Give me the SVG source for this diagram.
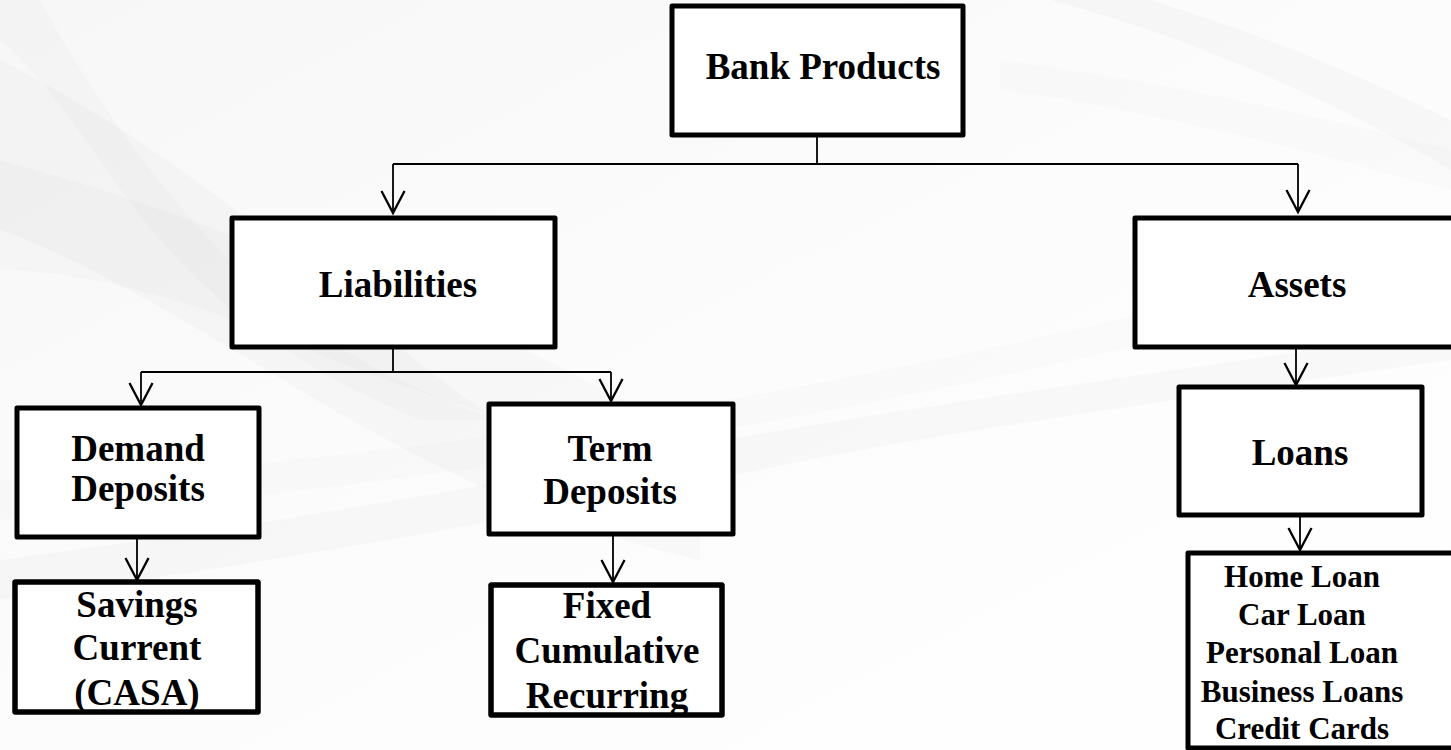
<svg xmlns="http://www.w3.org/2000/svg" width="1451" height="750" viewBox="0 0 1451 750">
<style>
.box{fill:#fff;stroke:#000;stroke-width:5;stroke-linejoin:round}
.lbl{font-family:"Liberation Serif","Times New Roman",serif;font-weight:bold;font-size:37px;fill:#000;text-anchor:middle}
.sm{font-size:31px}
.con{fill:none;stroke:#000;stroke-width:1.8}
.sw{fill:#000}
</style>
<defs>
<marker id="arr" markerUnits="userSpaceOnUse" markerWidth="30" markerHeight="30" viewBox="-22 -13 26 26" refX="0" refY="0" orient="auto" overflow="visible">
<path d="M-19,-10 L0,0 L-19,10" fill="none" stroke="#000" stroke-width="2"/>
</marker>
<linearGradient id="bg" x1="0" y1="0" x2="1" y2="1">
<stop offset="0" stop-color="#f7f7f7"/>
<stop offset="0.5" stop-color="#fcfcfc"/>
<stop offset="1" stop-color="#ffffff"/>
</linearGradient>
</defs>
<rect width="1451" height="750" fill="url(#bg)"/>
<g id="background">
<path class="sw" opacity="0.018" d="M0,60 C120,120 260,220 380,330 C460,400 560,470 700,520 L700,560 C520,520 380,440 250,360 C150,300 60,250 0,230 Z"/>
<path class="sw" opacity="0.015" d="M0,160 C150,200 300,260 480,330 C600,380 640,420 720,440 L720,470 C600,450 420,400 260,330 C160,290 60,270 0,270 Z"/>
<path class="sw" opacity="0.015" d="M40,0 C90,90 150,180 230,260 C300,330 380,380 500,420 L420,420 C320,380 230,320 160,240 C100,170 60,90 0,40 L0,0 Z"/>
<path class="sw" opacity="0.018" d="M0,560 C300,520 520,480 720,440 C900,410 1100,380 1451,330 L1451,360 C1100,410 900,440 760,470 C560,510 300,560 0,600 Z"/>
<path class="sw" opacity="0.012" d="M0,480 C250,470 500,440 780,390 C1000,350 1250,290 1451,240 L1451,270 C1250,320 1000,380 780,420 C500,470 250,500 0,520 Z"/>
<path class="sw" opacity="0.018" d="M1050,0 C1200,40 1330,100 1451,170 L1451,120 C1350,70 1250,30 1150,0 Z"/>
<path class="sw" opacity="0.012" d="M1000,60 C1150,80 1300,110 1451,150 L1451,190 C1300,150 1150,110 1000,90 Z"/>
</g>
<g id="connectors">
<path class="con" d="M817,135 V164"/>
<path class="con" d="M393,164 H1298"/>
<path class="con" d="M393,164 V213" marker-end="url(#arr)"/>
<path class="con" d="M1298,164 V212" marker-end="url(#arr)"/>
<path class="con" d="M393,347 V372"/>
<path class="con" d="M141,372 H611"/>
<path class="con" d="M141,372 V405" marker-end="url(#arr)"/>
<path class="con" d="M611,372 V401" marker-end="url(#arr)"/>
<path class="con" d="M137,537 V580" marker-end="url(#arr)"/>
<path class="con" d="M613,534 V582" marker-end="url(#arr)"/>
<path class="con" d="M1296,343 V385" marker-end="url(#arr)"/>
<path class="con" d="M1300,510 V550" marker-end="url(#arr)"/>
</g>
<g id="bank-products">
<rect class="box" x="672" y="6" width="291" height="129"/>
<text class="lbl" x="823" y="79">Bank Products</text>
</g>
<g id="liabilities">
<rect class="box" x="232" y="218" width="323" height="129"/>
<text class="lbl" x="398" y="297">Liabilities</text>
</g>
<g id="assets">
<rect class="box" x="1135" y="218" width="340" height="129"/>
<text class="lbl" x="1297" y="297">Assets</text>
</g>
<g id="demand-deposits">
<rect class="box" x="17" y="408" width="242" height="129"/>
<text class="lbl" x="138" y="461">Demand</text>
<text class="lbl" x="138" y="501">Deposits</text>
</g>
<g id="term-deposits">
<rect class="box" x="489" y="404" width="244" height="130"/>
<text class="lbl" x="610" y="461">Term</text>
<text class="lbl" x="610" y="504">Deposits</text>
</g>
<g id="casa">
<rect class="box" x="15" y="582" width="243" height="130"/>
<text class="lbl" x="137" y="617">Savings</text>
<text class="lbl" x="137" y="660">Current</text>
<text class="lbl" x="137" y="705">(CASA)</text>
<rect class="box" x="15" y="582" width="243" height="130" style="fill:none"/>
</g>
<g id="fixed">
<rect class="box" x="491" y="585" width="231" height="130"/>
<text class="lbl" x="607" y="618">Fixed</text>
<text class="lbl" x="607" y="663">Cumulative</text>
<text class="lbl" x="607" y="708">Recurring</text>
<rect class="box" x="491" y="585" width="231" height="130" style="fill:none"/>
</g>
<g id="loans">
<rect class="box" x="1179" y="387" width="243" height="128"/>
<text class="lbl" x="1300" y="465">Loans</text>
</g>
<g id="loan-types">
<rect class="box" x="1188" y="553" width="290" height="195"/>
<text class="lbl sm" x="1302" y="587">Home Loan</text>
<text class="lbl sm" x="1302" y="625">Car Loan</text>
<text class="lbl sm" x="1302" y="663">Personal Loan</text>
<text class="lbl sm" x="1302" y="702">Business Loans</text>
<text class="lbl sm" x="1302" y="739">Credit Cards</text>
</g>
</svg>
